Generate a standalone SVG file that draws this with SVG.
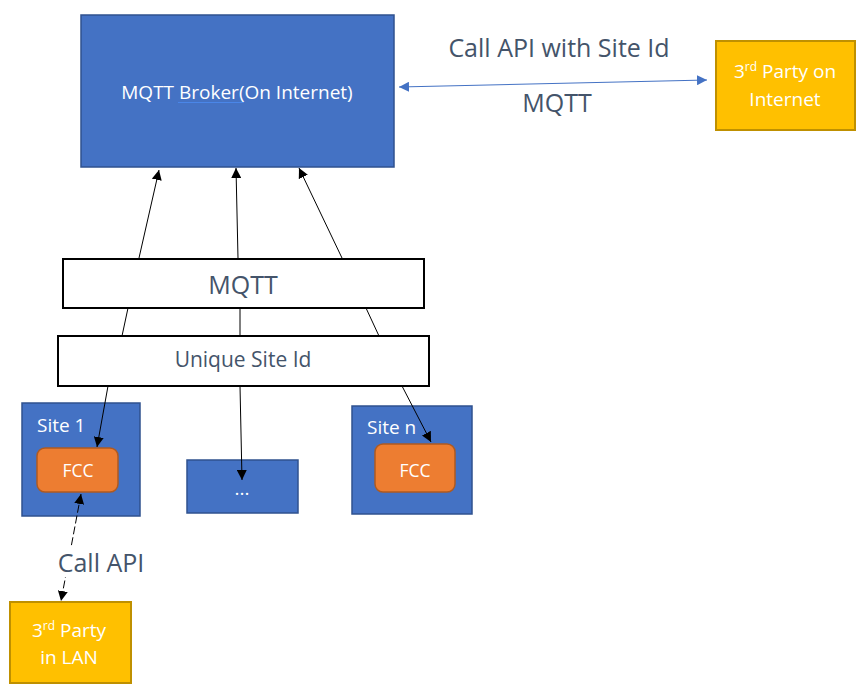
<svg xmlns="http://www.w3.org/2000/svg" width="863" height="687" viewBox="0 0 863 687">
<defs>
<style>
.blue{fill:#4472C4;stroke:#2F528F;stroke-width:1.5}
.gold{fill:#FFC000;stroke:#BF9000;stroke-width:2}
.org{fill:#ED7D31;stroke:#AE5A21;stroke-width:1.5}
.wbox{fill:#FFFFFF;stroke:#000000;stroke-width:2}
.wt{font-family:"Open Sans","Noto Sans",sans-serif;fill:#FFFFFF;font-size:19px}
.dt{font-family:"Open Sans","Noto Sans",sans-serif;fill:#44546A;font-size:25px}
.ln{stroke:#000000;stroke-width:1;fill:none}
</style>
<marker id="ah" viewBox="0 0 10 10" refX="10" refY="5" markerWidth="10" markerHeight="10" markerUnits="userSpaceOnUse" orient="auto-start-reverse">
<path d="M0,0 L10,5 L0,10 z" fill="#000000"/>
</marker>
<marker id="ahb" viewBox="0 0 10 10" refX="10" refY="5" markerWidth="10" markerHeight="10" markerUnits="userSpaceOnUse" orient="auto-start-reverse">
<path d="M0,0 L10,5 L0,10 z" fill="#4472C4"/>
</marker>
</defs>
<rect width="863" height="687" fill="#FFFFFF"/>

<g id="broker">
<rect class="blue" x="81" y="15" width="313" height="152"/>
<text class="wt" x="237" y="99" text-anchor="middle">MQTT Broker(On Internet)</text>
<line x1="178" y1="102.5" x2="244" y2="102.5" stroke="#4A86E8" stroke-width="1"/>
</g>

<g id="third-party-internet">
<rect class="gold" x="716" y="41" width="139" height="89"/>
<text class="wt" x="785" y="78" text-anchor="middle">3<tspan font-size="12" dy="-7">rd</tspan><tspan dy="7"> Party on</tspan></text>
<text class="wt" x="785" y="106" text-anchor="middle">Internet</text>
</g>

<g id="mqtt-box">
<rect class="wbox" x="63" y="259" width="361" height="49"/>
<text class="dt" x="243" y="294" text-anchor="middle">MQTT</text>
</g>

<g id="unique-site-id">
<rect class="wbox" x="58" y="336" width="371" height="50"/>
<text class="dt" x="243" y="367" text-anchor="middle" style="font-size:21px">Unique Site Id</text>
</g>

<g id="site1">
<rect class="blue" x="22" y="403" width="118" height="113"/>
<text class="wt" x="37" y="432">Site 1</text>
</g>
<g id="fcc1">
<rect class="org" x="37" y="448" width="81" height="44" rx="8"/>
<text class="wt" x="78" y="477" text-anchor="middle" style="font-size:17.5px">FCC</text>
</g>

<g id="site-dots">
<rect class="blue" x="187" y="460" width="111" height="53"/>
<text class="wt" x="242" y="495" text-anchor="middle">...</text>
</g>

<g id="siten">
<rect class="blue" x="352" y="406" width="120" height="108"/>
<text class="wt" x="367" y="434">Site n</text>
</g>
<g id="fccn">
<rect class="org" x="375" y="444" width="80" height="48" rx="8"/>
<text class="wt" x="415" y="477" text-anchor="middle" style="font-size:17.5px">FCC</text>
</g>

<g id="third-party-lan">
<rect class="gold" x="10" y="602" width="121" height="81"/>
<text class="wt" x="69" y="637" text-anchor="middle">3<tspan font-size="12" dy="-7">rd</tspan><tspan dy="7"> Party</tspan></text>
<text class="wt" x="69" y="664" text-anchor="middle">in LAN</text>
</g>

<g id="connectors">
<line x1="399" y1="87" x2="707" y2="80" stroke="#4472C4" stroke-width="1.2" marker-start="url(#ahb)" marker-end="url(#ahb)"/>
<text class="dt" x="559" y="57" text-anchor="middle">Call API with Site Id</text>
<text class="dt" x="557" y="112" text-anchor="middle">MQTT</text>

<line class="ln" x1="139" y1="258" x2="159" y2="170" marker-end="url(#ah)"/>
<line class="ln" x1="238" y1="258" x2="236" y2="168" marker-end="url(#ah)"/>
<line class="ln" x1="342" y1="258" x2="299" y2="168" marker-end="url(#ah)"/>

<line class="ln" x1="128" y1="308" x2="122" y2="336"/>
<line class="ln" x1="240" y1="308" x2="240" y2="336"/>
<line class="ln" x1="366" y1="308" x2="379" y2="336"/>

<line class="ln" x1="108" y1="386" x2="97" y2="447" marker-end="url(#ah)"/>
<line class="ln" x1="240" y1="386" x2="242" y2="480" marker-end="url(#ah)"/>
<line class="ln" x1="402" y1="386" x2="431" y2="442" marker-end="url(#ah)"/>

<line class="ln" x1="81" y1="494" x2="61" y2="601" stroke-dasharray="8,3" marker-start="url(#ah)" marker-end="url(#ah)"/>
<rect x="56" y="547" width="92" height="30" fill="#FFFFFF"/>
<text class="dt" x="101" y="572" text-anchor="middle">Call API</text>
</g>
</svg>
